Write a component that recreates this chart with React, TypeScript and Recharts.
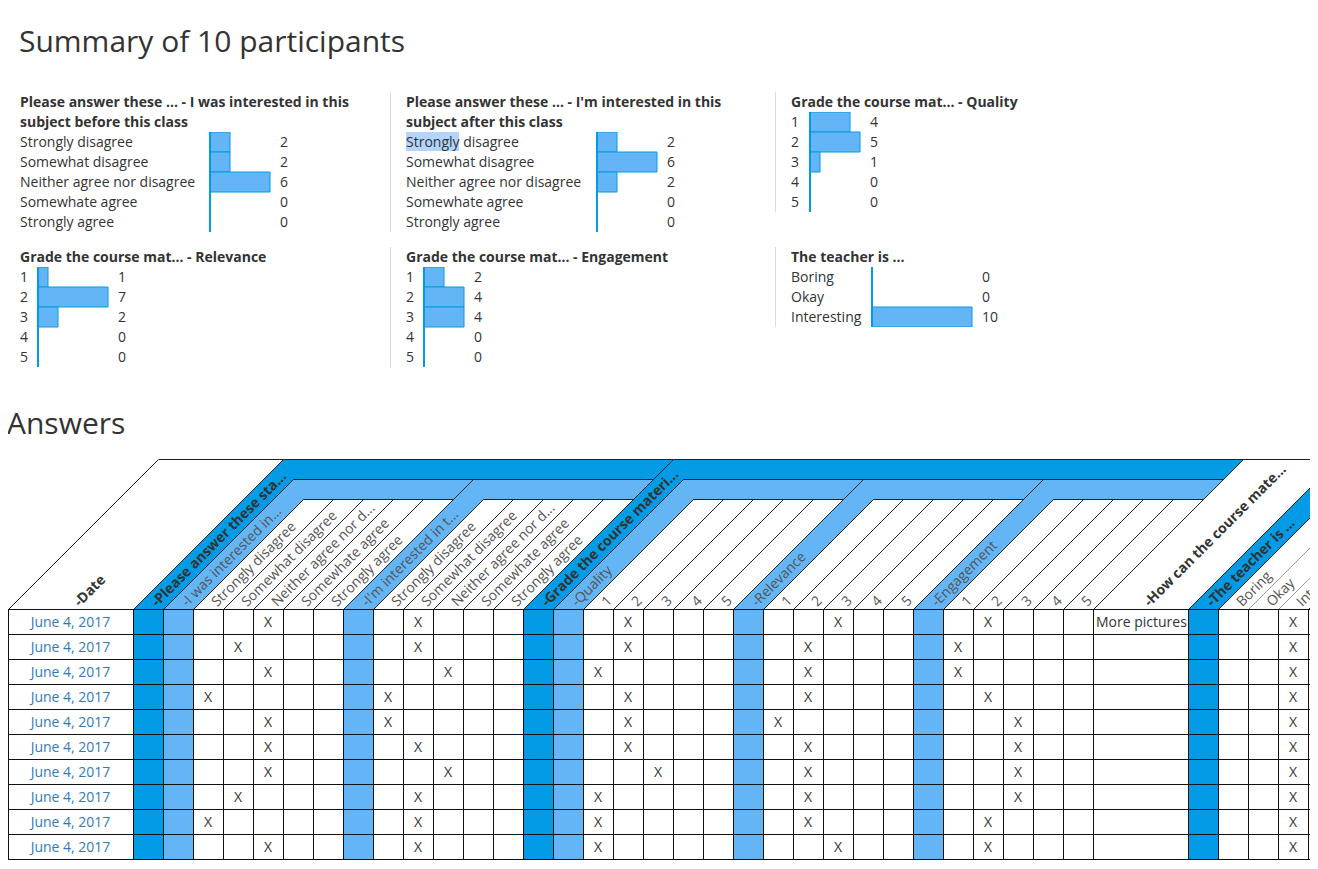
import React from 'react';
import { BarChart, Bar, XAxis, YAxis } from 'recharts';

const DARK = '#039BE5';
const LIGHT = '#64B5F6';
const TEXT = '#333333';
const LINK = '#337ab7';
const FONT = "'Open Sans', sans-serif";

// ---------- Summary data ----------
const agreeLabels = ['Strongly disagree', 'Somewhat disagree', 'Neither agree nor disagree', 'Somewhate agree', 'Strongly agree'];
const beforeCounts = [2, 2, 6, 0, 0];
const afterCounts = [2, 6, 2, 0, 0];
const gradeLabels = ['1', '2', '3', '4', '5'];
const qualityCounts = [4, 5, 1, 0, 0];
const relevanceCounts = [1, 7, 2, 0, 0];
const engagementCounts = [2, 4, 4, 0, 0];
const teacherLabels = ['Boring', 'Okay', 'Interesting'];
const teacherCounts = [0, 0, 10];

// ---------- Answers data ----------
const answerDates = ['June 4, 2017', 'June 4, 2017', 'June 4, 2017', 'June 4, 2017', 'June 4, 2017', 'June 4, 2017', 'June 4, 2017', 'June 4, 2017', 'June 4, 2017', 'June 4, 2017'];
const beforeAnswers = [2, 1, 2, 0, 2, 2, 2, 1, 0, 2];
const afterAnswers = [1, 1, 2, 0, 0, 1, 2, 1, 1, 1];
const qualityAnswers = [1, 1, 0, 1, 1, 1, 2, 0, 0, 0];
const relevanceAnswers = [2, 1, 1, 1, 0, 1, 1, 1, 1, 2];
const engagementAnswers = [1, 0, 0, 1, 2, 2, 2, 2, 1, 1];
const improveAnswers = ['More pictures', '', '', '', '', '', '', '', '', ''];
const teacherAnswers = [2, 2, 2, 2, 2, 2, 2, 2, 2, 2];
const agreeHeaderLabels = ['Strongly disagree', 'Somewhat disagree', 'Neither agree nor d...', 'Somewhate agree', 'Strongly agree'];

const answerTable: Record<string, number[]> = {
  before: beforeAnswers,
  after: afterAnswers,
  quality: qualityAnswers,
  relevance: relevanceAnswers,
  engagement: engagementAnswers,
  teacher: teacherAnswers,
};

// ---------- Summary panel ----------
type PanelProps = {
  x: number;
  top: number;
  borderX: number;
  titleLines: string[];
  labels: string[];
  counts: number[];
  labelW: number;
  highlight?: { w: number };
};

function SummaryPanel({ x, top, borderX, titleLines, labels, counts, labelW, highlight }: PanelProps) {
  const data = labels.map((label, i) => ({ label, value: counts[i] }));
  const max = Math.max(...counts);
  const plotW = max * 10;
  const valueW = 40;
  const chartTop = top + titleLines.length * 20;
  const chartH = labels.length * 20;
  const LeftTick = (p: any) => (
    <text x={p.x - labelW} y={p.y} dy="0.355em" textAnchor="start" fill={TEXT} fontSize={14} fontFamily={FONT}>
      {p.payload.value}
    </text>
  );
  return (
    <>
      <div style={{ position: 'absolute', left: borderX, top, width: 1, height: chartTop + chartH - top, background: '#dadada' }} />
      {titleLines.map((t, i) => (
        <div key={i} style={{ position: 'absolute', left: x, top: top + i * 20, lineHeight: '20px', fontSize: 14, fontWeight: 700, color: TEXT, whiteSpace: 'nowrap' }}>
          {t}
        </div>
      ))}
      {highlight && (
        <div style={{ position: 'absolute', left: x, top: chartTop, width: highlight.w, height: 19, background: '#B3D4FC' }} />
      )}
      <div style={{ position: 'absolute', left: x, top: chartTop }}>
        <BarChart
          layout="vertical"
          width={labelW + plotW + valueW}
          height={chartH}
          data={data}
          margin={{ top: 0, right: 0, bottom: 0, left: 0 }}
          barCategoryGap={0}
        >
          <XAxis type="number" domain={[0, max]} hide />
          <YAxis
            yAxisId="l"
            type="category"
            dataKey="label"
            width={labelW}
            tickSize={0}
            tickMargin={0}
            interval={0}
            tickLine={false}
            axisLine={{ stroke: DARK, strokeWidth: 2 }}
            tick={LeftTick}
          />
          <YAxis
            yAxisId="r"
            orientation="right"
            type="category"
            dataKey="label"
            width={valueW}
            tickSize={0}
            tickMargin={10}
            interval={0}
            tickLine={false}
            axisLine={false}
            tick={{ fill: TEXT, fontSize: 14, fontFamily: FONT }}
            tickFormatter={(_v: any, i: number) => String(counts[i])}
          />
          <Bar yAxisId="l" dataKey="value" fill={LIGHT} stroke={DARK} strokeWidth={1} isAnimationActive={false} />
        </BarChart>
      </div>
    </>
  );
}

// ---------- Answers table ----------
type HNode = { label: string; bold?: boolean; w?: number; q?: string; opt?: number; faint?: boolean; children?: HNode[] };
const optionLeaves = (labels: string[], q: string, faint = false): HNode[] => labels.map((label, opt) => ({ label, q, opt, faint }));

const headerTree: HNode[] = [
  { label: '-Date', bold: true, w: 125, q: 'date' },
  {
    label: '-Please answer these sta...', bold: true, children: [
      { label: '-I was interested in...', children: optionLeaves(agreeHeaderLabels, 'before') },
      { label: "-I'm interested in t...", children: optionLeaves(agreeHeaderLabels, 'after') },
    ],
  },
  {
    label: '-Grade the course materi...', bold: true, children: [
      { label: '-Quality', children: optionLeaves(gradeLabels, 'quality') },
      { label: '-Relevance', children: optionLeaves(gradeLabels, 'relevance') },
      { label: '-Engagement', children: optionLeaves(gradeLabels, 'engagement') },
    ],
  },
  { label: '-How can the course mate...', bold: true, w: 95, q: 'improve' },
  { label: '-The teacher is ...', bold: true, children: optionLeaves(teacherLabels, 'teacher', true) },
  { label: '', w: 60 },
];

type Item = { kind: 'group' | 'leaf'; depth: number; a: number; b: number; end: number; node: HNode };
type Col = { a: number; b: number; fill: string; node: HNode };

function layoutHeader(nodes: HNode[], depth: number, x0: number, items: Item[], cols: Col[]): number {
  let x = x0;
  for (const n of nodes) {
    if (n.children) {
      const a = x;
      const b = x + 30;
      cols.push({ a, b, fill: depth === 0 ? DARK : LIGHT, node: n });
      const end = layoutHeader(n.children, depth + 1, b, items, cols);
      items.push({ kind: 'group', depth, a, b, end, node: n });
      x = end;
    } else {
      const w = n.w ?? 30;
      cols.push({ a: x, b: x + w, fill: '#ffffff', node: n });
      items.push({ kind: 'leaf', depth, a: x, b: x + w, end: x + w, node: n });
      x += w;
    }
  }
  return x;
}

function AnswersTable() {
  const B = 609.5;
  const T = [459.5, 479.5, 499.5];
  const rowH = 25;
  const items: Item[] = [];
  const cols: Col[] = [];
  layoutHeader(headerTree, 0, 8, items, cols);
  const pts = (arr: number[][]) => arr.map((p) => `${p[0] + 0.5},${p[1]}`).join(' ');

  const leaves = items.filter((it) => it.kind === 'leaf');
  const groups = items.filter((it) => it.kind === 'group');

  return (
    <svg width={1318} height={860} style={{ position: 'absolute', left: 0, top: 0 }} fontFamily={FONT}>
      {leaves.map((it, i) => {
        const top = T[it.depth];
        const h = B - top;
        return (
          <polygon key={'l' + i} points={pts([[it.a, B], [it.a + h, top], [it.b + h, top], [it.b, B]])} fill="#fff" stroke={it.node.faint ? '#9a9a9a' : '#222'} strokeWidth={1} />
        );
      })}
      {groups.map((it, i) => {
        const top = T[it.depth];
        const inner = T[it.depth + 1];
        return (
          <polygon
            key={'g' + i}
            points={pts([[it.a, B], [it.a + (B - top), top], [it.end + (B - top), top], [it.end + (B - inner), inner], [it.b + (B - inner), inner], [it.b, B]])}
            fill={it.depth === 0 ? DARK : LIGHT}
            stroke="#222"
            strokeWidth={1}
          />
        );
      })}
      {items.map((it, i) => {
        const cx = (it.a + it.b) / 2;
        const bold = !!it.node.bold;
        return (
          <text key={'t' + i} transform={`translate(${cx},${B}) rotate(-45)`} x={8} dy="0.35em" fontSize={14} fontWeight={bold ? 700 : 400} fill={bold ? '#333' : '#555'}>
            {it.node.label}
          </text>
        );
      })}
      {answerDates.map((date, r) => {
        const y = B - 0.5 + r * rowH;
        const ty = y + rowH / 2 + 0.5;
        return (
          <g key={'r' + r}>
            {cols.map((c, ci) => {
              const n = c.node;
              let content: React.ReactNode = null;
              if (n.q === 'date') {
                content = <text x={(c.a + c.b) / 2} y={ty} dy="0.36em" textAnchor="middle" fontSize={14} fill={LINK}>{date}</text>;
              } else if (n.q === 'improve') {
                content = <text x={c.a + 3} y={ty} dy="0.36em" textAnchor="start" fontSize={14} fill={TEXT}>{improveAnswers[r]}</text>;
              } else if (n.q && answerTable[n.q] && answerTable[n.q][r] === n.opt) {
                content = <text x={(c.a + c.b) / 2} y={ty} dy="0.36em" textAnchor="middle" fontSize={14} fill={TEXT}>X</text>;
              }
              return (
                <g key={ci}>
                  <rect x={c.a + 0.5} y={y + 0.5} width={c.b - c.a} height={rowH} fill={c.fill} stroke="#111" strokeWidth={1} />
                  {content}
                </g>
              );
            })}
          </g>
        );
      })}
    </svg>
  );
}

export default function App() {
  return (
    <div style={{ position: 'relative', width: 1318, height: 860, margin: '-8px 0 0 -8px', overflow: 'hidden', fontFamily: FONT, color: TEXT, background: '#fff' }}>
      <div style={{ position: 'absolute', left: 19, top: 26, fontSize: 30, lineHeight: '30px', color: TEXT, whiteSpace: 'nowrap' }}>Summary of 10 participants</div>

      <SummaryPanel x={20} top={92} borderX={4} titleLines={['Please answer these ... - I was interested in this', 'subject before this class']} labels={agreeLabels} counts={beforeCounts} labelW={190} />
      <SummaryPanel x={406} top={92} borderX={390} titleLines={["Please answer these ... - I'm interested in this", 'subject after this class']} labels={agreeLabels} counts={afterCounts} labelW={191} highlight={{ w: 53 }} />
      <SummaryPanel x={791} top={92} borderX={775} titleLines={['Grade the course mat... - Quality']} labels={gradeLabels} counts={qualityCounts} labelW={19} />

      <SummaryPanel x={20} top={247} borderX={4} titleLines={['Grade the course mat... - Relevance']} labels={gradeLabels} counts={relevanceCounts} labelW={18} />
      <SummaryPanel x={406} top={247} borderX={390} titleLines={['Grade the course mat... - Engagement']} labels={gradeLabels} counts={engagementCounts} labelW={18} />
      <SummaryPanel x={791} top={247} borderX={775} titleLines={['The teacher is ...']} labels={teacherLabels} counts={teacherCounts} labelW={81} />

      <div style={{ position: 'absolute', left: 7, top: 408, fontSize: 30, lineHeight: '30px', color: TEXT, whiteSpace: 'nowrap' }}>Answers</div>

      <AnswersTable />
    </div>
  );
}
